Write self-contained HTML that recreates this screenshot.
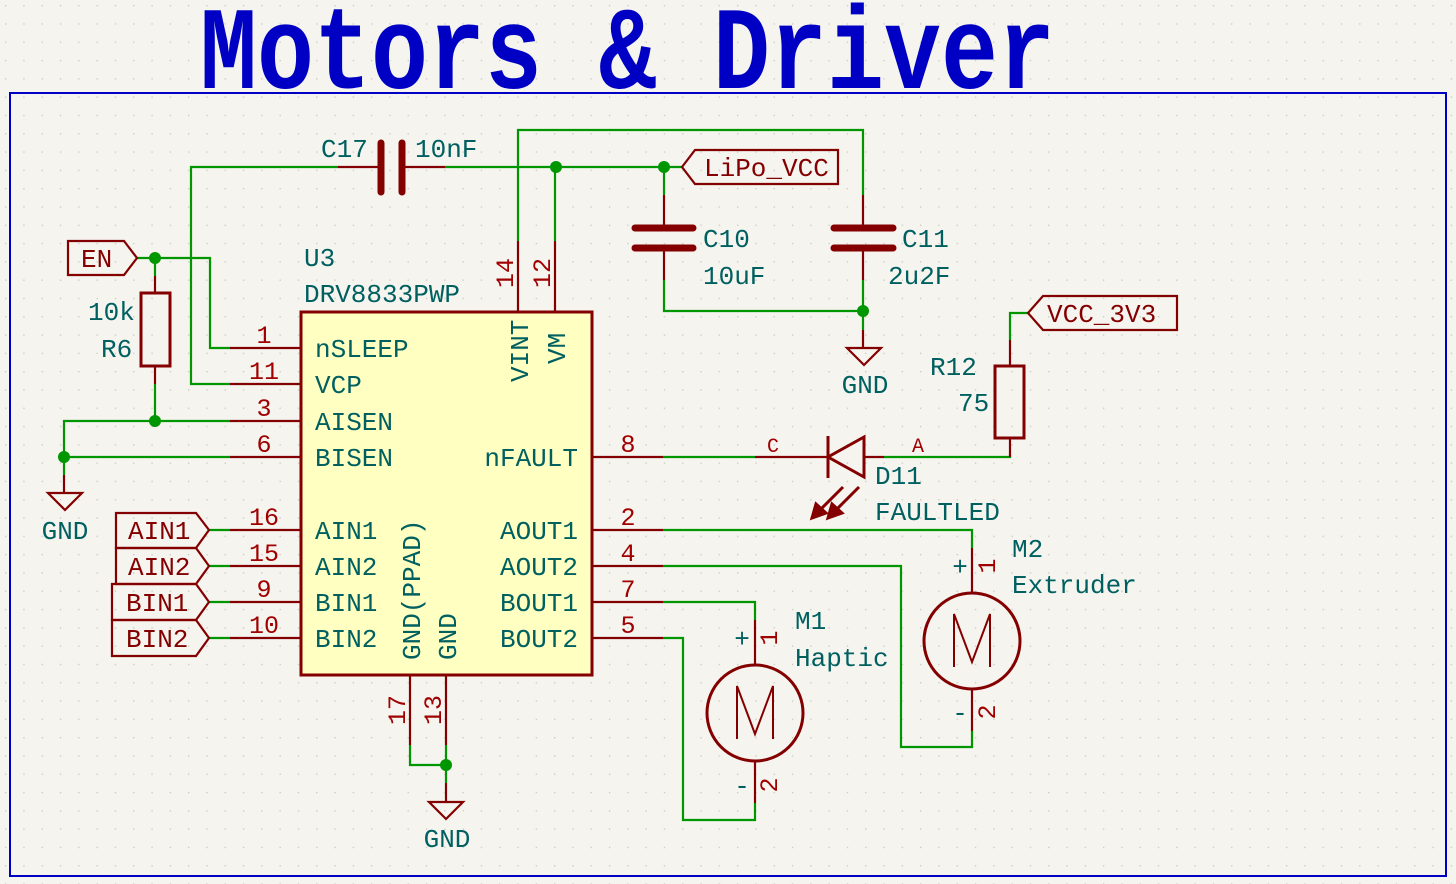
<!DOCTYPE html>
<html><head><meta charset="utf-8"><style>
html,body{margin:0;padding:0;background:#f5f4ef;}
svg{display:block}
text{font-family:"Liberation Mono","DejaVu Sans Mono",monospace;}
.t{fill:#006060;font-size:26px}
.n{fill:#a00000;font-size:25px}
.w{stroke:#009600;stroke-width:2.2;fill:none}
.p{stroke:#840000;stroke-width:2.2;fill:none}
.s{stroke:#840000;stroke-width:3;fill:none}
.lbl{stroke:#840000;stroke-width:2.2;fill:none}
.lt{fill:#840000;font-size:26px}
</style></head><body>
<svg width="1456" height="884" viewBox="0 0 1456 884" xmlns="http://www.w3.org/2000/svg">
<defs><pattern id="g" width="18.3" height="18.3" patternUnits="userSpaceOnUse" x="5" y="5"><rect x="0" y="0" width="1.3" height="1.3" fill="#c8c8c0"/></pattern></defs>
<rect width="1456" height="884" fill="#f5f4ef"/>
<rect width="1456" height="884" fill="url(#g)"/>
<text x="200" y="88" textLength="855" lengthAdjust="spacingAndGlyphs" style="font-family:'Liberation Mono',monospace;font-weight:bold;font-size:118px;fill:#0000c4">Motors &amp; Driver</text>
<rect x="10" y="93" width="1436" height="783" fill="none" stroke="#0000c4" stroke-width="2"/>

<rect x="301" y="312" width="291" height="363" fill="#ffffc2" stroke="#840000" stroke-width="3"/>
<g class="p">
<line x1="230" y1="348" x2="301" y2="348"/><line x1="230" y1="384" x2="301" y2="384"/>
<line x1="230" y1="421" x2="301" y2="421"/><line x1="230" y1="457" x2="301" y2="457"/>
<line x1="230" y1="530" x2="301" y2="530"/><line x1="230" y1="566" x2="301" y2="566"/>
<line x1="230" y1="602" x2="301" y2="602"/><line x1="230" y1="638" x2="301" y2="638"/>
<line x1="592" y1="457" x2="663" y2="457"/><line x1="592" y1="530" x2="663" y2="530"/>
<line x1="592" y1="566" x2="663" y2="566"/><line x1="592" y1="602" x2="663" y2="602"/>
<line x1="592" y1="638" x2="663" y2="638"/>
<line x1="518" y1="241" x2="518" y2="312"/><line x1="555" y1="241" x2="555" y2="312"/>
<line x1="410" y1="675" x2="410" y2="745"/><line x1="446" y1="675" x2="446" y2="745"/>
</g>
<g class="n" text-anchor="middle">
<text x="264" y="343">1</text><text x="264" y="379">11</text><text x="264" y="416">3</text><text x="264" y="452">6</text>
<text x="264" y="525">16</text><text x="264" y="561">15</text><text x="264" y="597">9</text><text x="264" y="633">10</text>
<text x="628" y="452">8</text><text x="628" y="525">2</text><text x="628" y="561">4</text><text x="628" y="597">7</text><text x="628" y="633">5</text>
<text transform="translate(513,273) rotate(-90)">14</text><text transform="translate(550,273) rotate(-90)">12</text>
<text transform="translate(405,710) rotate(-90)">17</text><text transform="translate(441,710) rotate(-90)">13</text>
</g>
<g class="t">
<text x="315" y="357">nSLEEP</text><text x="315" y="393">VCP</text><text x="315" y="430">AISEN</text><text x="315" y="466">BISEN</text>
<text x="315" y="539">AIN1</text><text x="315" y="575">AIN2</text><text x="315" y="611">BIN1</text><text x="315" y="647">BIN2</text>
<text x="578" y="466" text-anchor="end">nFAULT</text><text x="578" y="539" text-anchor="end">AOUT1</text>
<text x="578" y="575" text-anchor="end">AOUT2</text><text x="578" y="611" text-anchor="end">BOUT1</text><text x="578" y="647" text-anchor="end">BOUT2</text>
<text transform="translate(528,382) rotate(-90)">VINT</text><text transform="translate(565,364) rotate(-90)">VM</text>
<text transform="translate(420,660) rotate(-90)">GND(PPAD)</text><text transform="translate(456,660) rotate(-90)">GND</text>
<text x="304" y="266">U3</text><text x="304" y="302">DRV8833PWP</text>
</g>

<g class="w">
<polyline points="338,167 191,167 191,384 230,384"/>
<polyline points="445,167 682,167"/>
<polyline points="137,258 210,258 210,348 230,348"/>
<line x1="155" y1="258" x2="155" y2="276"/>
<line x1="155" y1="384" x2="155" y2="421"/>
<polyline points="230,421 64,421 64,475"/>
<line x1="64" y1="457" x2="230" y2="457"/>
<polyline points="518,241 518,130 863,130 863,195"/>
<line x1="555" y1="167" x2="555" y2="241"/>
<line x1="664" y1="167" x2="664" y2="195"/>
<polyline points="664,280 664,311 863,311"/>
<line x1="863" y1="280" x2="863" y2="330"/>
<polyline points="663,457 755,457"/>
<polyline points="1028,313 1010,313 1010,340"/>
<polyline points="884,457 1010,457 1010,455"/>
<line x1="209" y1="530" x2="230" y2="530"/><line x1="209" y1="566" x2="230" y2="566"/>
<line x1="209" y1="602" x2="230" y2="602"/><line x1="209" y1="638" x2="230" y2="638"/>
<polyline points="663,530 972,530 972,548"/>
<polyline points="663,566 901,566 901,747 972,747 972,731"/>
<polyline points="663,602 755,602 755,620"/>
<polyline points="663,638 683,638 683,820 755,820 755,803"/>
<polyline points="410,745 410,765 446,765"/>
<line x1="446" y1="745" x2="446" y2="783"/>
</g>
<g fill="#009600">
<circle cx="155" cy="258" r="6"/><circle cx="155" cy="421" r="6"/><circle cx="64" cy="457" r="6"/>
<circle cx="556" cy="167" r="6"/><circle cx="664" cy="167" r="6"/><circle cx="863" cy="311" r="6"/>
<circle cx="446" cy="765" r="6"/>
</g>

<g class="p"><line x1="338" y1="167" x2="381" y2="167"/><line x1="402" y1="167" x2="445" y2="167"/>
<line x1="664" y1="195" x2="664" y2="228"/><line x1="664" y1="248" x2="664" y2="280"/>
<line x1="863" y1="195" x2="863" y2="228"/><line x1="863" y1="248" x2="863" y2="280"/>
<line x1="155" y1="276" x2="155" y2="293"/><line x1="155" y1="366" x2="155" y2="384"/>
<line x1="1010" y1="340" x2="1010" y2="366"/><line x1="1010" y1="438" x2="1010" y2="457"/>
<line x1="755" y1="457" x2="827" y2="457"/><line x1="864" y1="457" x2="884" y2="457"/>
<line x1="863" y1="330" x2="863" y2="348"/><line x1="64" y1="475" x2="64" y2="493"/><line x1="446" y1="783" x2="446" y2="802"/>
<line x1="972" y1="548" x2="972" y2="593"/><line x1="972" y1="689" x2="972" y2="731"/>
<line x1="755" y1="620" x2="755" y2="665"/><line x1="755" y1="761" x2="755" y2="803"/>
</g>
<g stroke="#840000" stroke-width="7" stroke-linecap="round">
<line x1="381" y1="143" x2="381" y2="192"/><line x1="402" y1="143" x2="402" y2="192"/>
<line x1="635" y1="228" x2="693" y2="228"/><line x1="635" y1="248" x2="693" y2="248"/>
<line x1="834" y1="228" x2="893" y2="228"/><line x1="834" y1="248" x2="893" y2="248"/>
</g>
<g class="t"><text x="321" y="157">C17</text><text x="415" y="157">10nF</text>
<text x="703" y="247">C10</text><text x="703" y="284">10uF</text><text x="902" y="247">C11</text><text x="888" y="284">2u2F</text>
<text x="88" y="320">10k</text><text x="101" y="357">R6</text>
<text x="930" y="375">R12</text><text x="958" y="411">75</text>
<text x="875" y="484">D11</text><text x="875" y="520">FAULTLED</text>
<text x="1012" y="557">M2</text><text x="1012" y="593">Extruder</text>
<text x="795" y="629">M1</text><text x="795" y="666">Haptic</text>
<text x="960" y="575" text-anchor="middle">+</text><text x="742" y="647" text-anchor="middle">+</text>
<text x="960" y="721" text-anchor="middle">-</text><text x="742" y="794" text-anchor="middle">-</text>
<text x="65" y="539" text-anchor="middle">GND</text><text x="865" y="393" text-anchor="middle">GND</text><text x="447" y="847" text-anchor="middle">GND</text>
</g>
<g class="n" text-anchor="middle">
<text x="773" y="452" font-size="20">C</text><text x="918" y="452" font-size="20">A</text>
<text transform="translate(995,566) rotate(-90)">1</text><text transform="translate(995,712) rotate(-90)">2</text>
<text transform="translate(777,638) rotate(-90)">1</text><text transform="translate(777,785) rotate(-90)">2</text>
</g>
<rect x="141" y="293" width="29" height="73" class="s"/>
<rect x="995" y="366" width="29" height="72" class="s"/>
<g class="p"><polygon points="48,493 82,493 65,510"/><polygon points="847,348 881,348 864,365"/><polygon points="429,802 463,802 446,819"/></g>
<g class="s"><polygon points="864,437 864,477 828,457"/><line x1="828" y1="436" x2="828" y2="478"/></g>
<g stroke="#840000" stroke-width="3" fill="#840000">
<line x1="843" y1="487" x2="818" y2="512"/><polygon points="812,518 816,504 826,513"/>
<line x1="859" y1="487" x2="834" y2="512"/><polygon points="828,518 832,504 842,513"/>
</g>
<circle cx="972" cy="641" r="48" class="s" stroke-width="4"/>
<circle cx="755" cy="713" r="48" class="s" stroke-width="4"/>
<polyline points="954,667 954,614 972,662 990,614 990,667" stroke="#840000" stroke-width="2" fill="none"/>
<polyline points="737,739 737,686 755,734 773,686 773,739" stroke="#840000" stroke-width="2" fill="none"/>
<g class="lbl">
<polygon points="68,241 124,241 137,258 124,275 68,275"/>
<polygon points="116,513 196,513 209,530 196,548 116,548"/>
<polygon points="116,548 196,548 209,566 196,584 116,584"/>
<polygon points="112,584 196,584 209,602 196,620 112,620"/>
<polygon points="112,620 196,620 209,638 196,656 112,656"/>
<polygon points="682,167 695,150 838,150 838,184 695,184"/>
<polygon points="1028,313 1043,296 1177,296 1177,330 1043,330"/>
</g>
<g class="lt">
<text x="81" y="267">EN</text><text x="128" y="539">AIN1</text><text x="128" y="575">AIN2</text>
<text x="126" y="611">BIN1</text><text x="126" y="647">BIN2</text>
<text x="704" y="176">LiPo_VCC</text><text x="1047" y="322">VCC_3V3</text>
</g>
</svg>
</body></html>
